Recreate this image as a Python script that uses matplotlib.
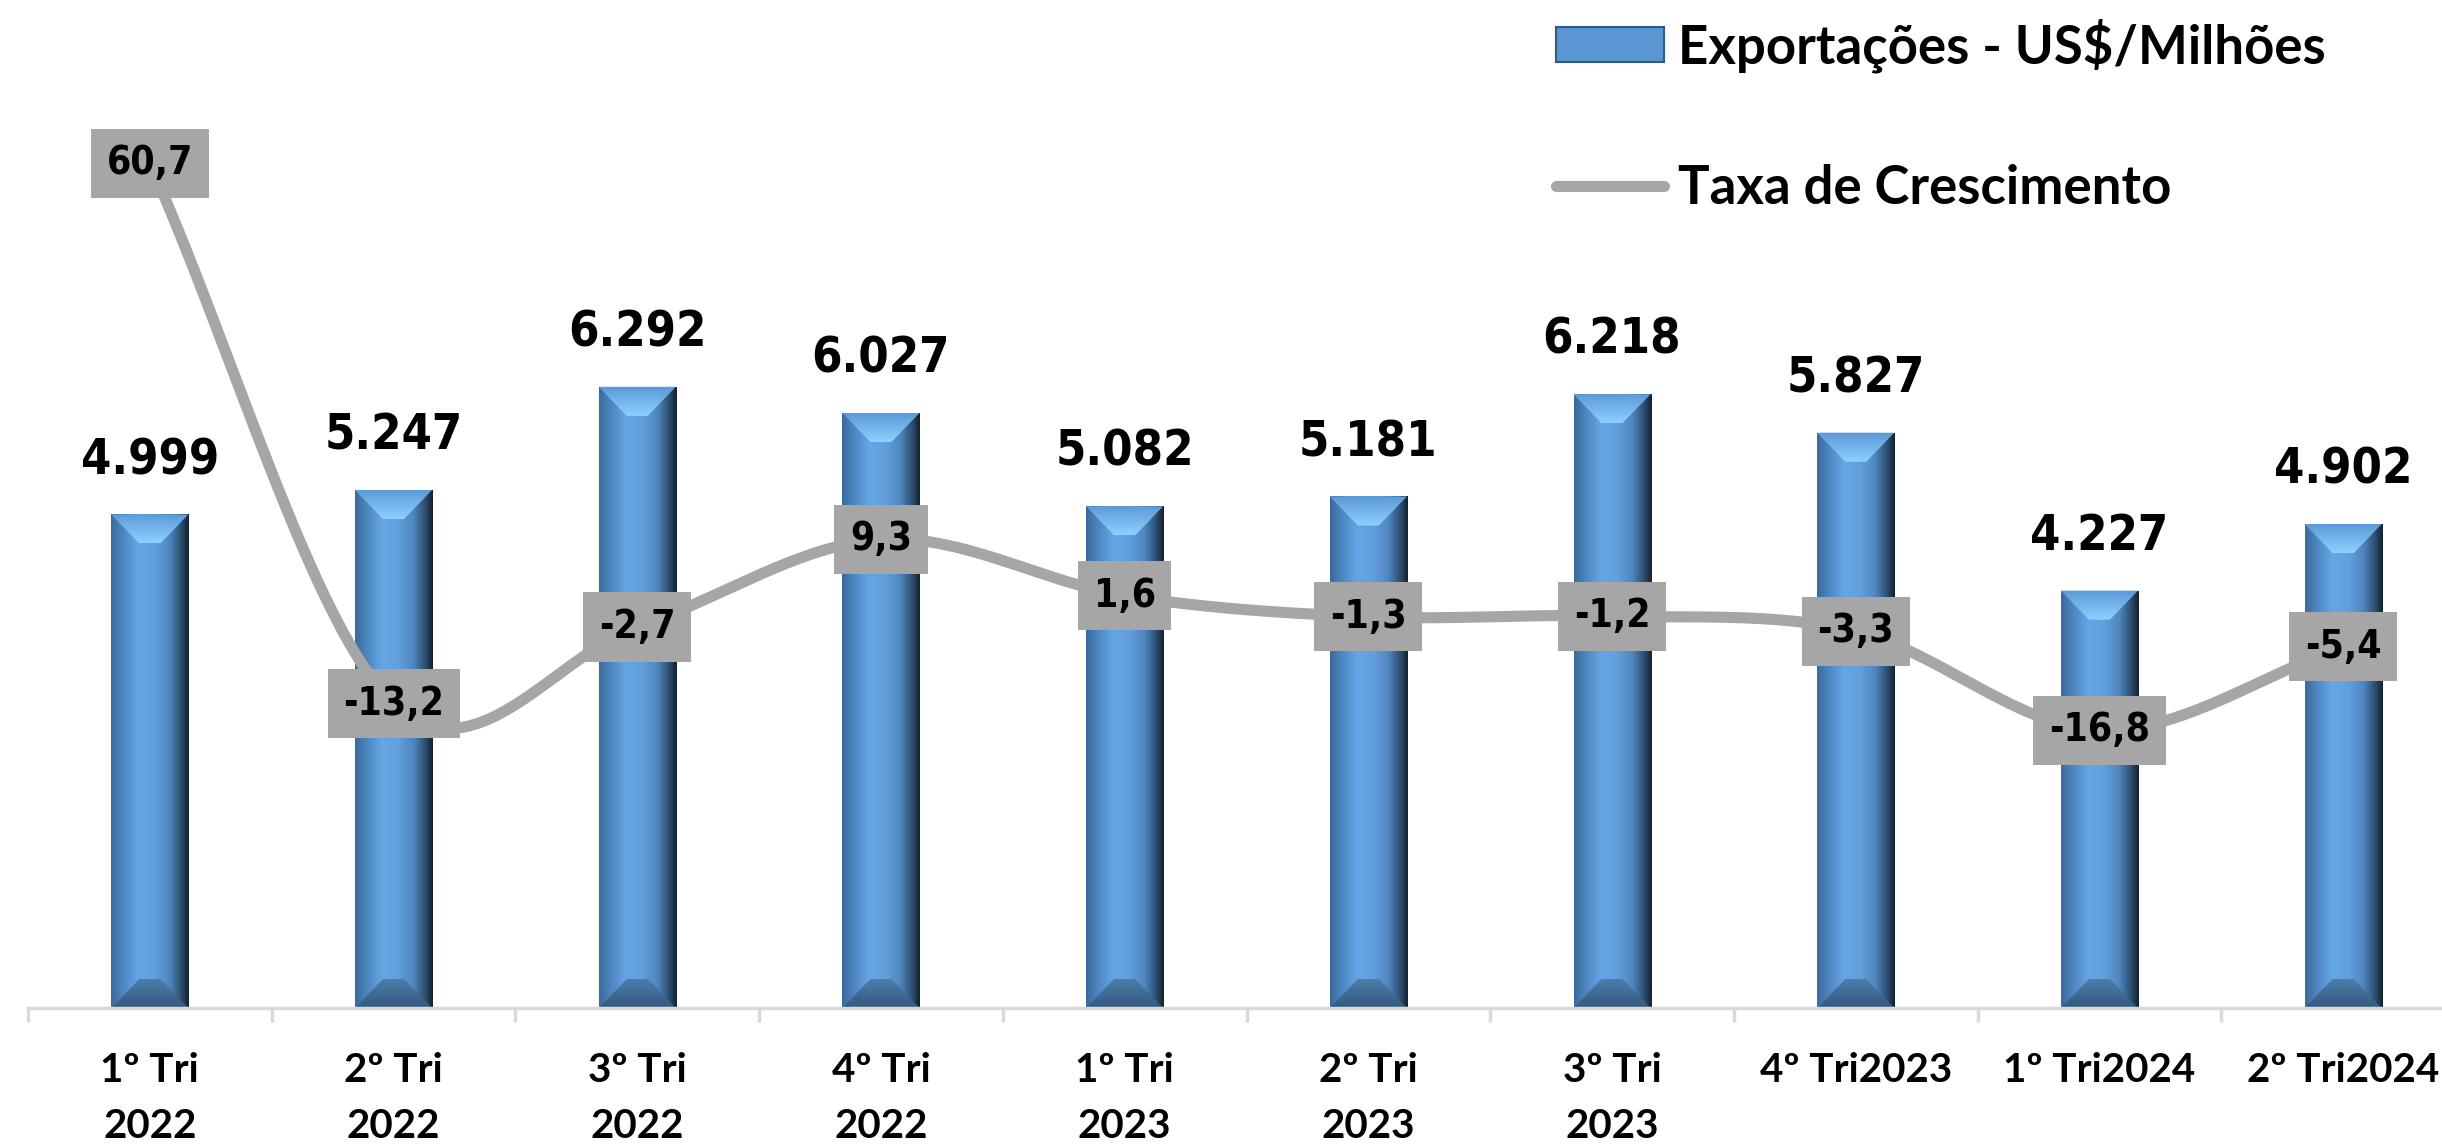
import numpy as np
import matplotlib.pyplot as plt
from matplotlib.colors import LinearSegmentedColormap
from matplotlib.patches import Polygon, Patch
from matplotlib.lines import Line2D

# data
trimestres = ['1º Tri\n2022', '2º Tri\n2022', '3º Tri\n2022', '4º Tri\n2022', '1º Tri\n2023',
              '2º Tri\n2023', '3º Tri\n2023', '4º Tri2023', '1º Tri2024', '2º Tri2024']
exportacoes = [4999, 5247, 6292, 6027, 5082, 5181, 6218, 5827, 4227, 4902]
taxa = [60.7, -13.2, -2.7, 9.3, 1.6, -1.3, -1.2, -3.3, -16.8, -5.4]

fonte = 'Lato'

fig = plt.figure(figsize=(24.42, 11.46), dpi=100)
ax = fig.add_axes([28 / 2442, 138 / 1146, 2437 / 2442, 1008 / 1146])
ax2 = ax.twinx()

x = np.arange(len(exportacoes))
largura = 0.316
barras = ax.bar(x, exportacoes, width=largura, color='#5b9bd5', zorder=2)

# bevel look: horizontal gradient on the body, light top and dark bottom facets
cmap_h = LinearSegmentedColormap.from_list('h', [(0, '#3a6a9a'), (0.15, '#4d86c0'), (0.35, '#66a6e6'),
                                                  (0.55, '#62a0de'), (0.75, '#4f86be'), (0.9, '#2e4f72'),
                                                  (1, '#14202c')])
cmap_top = LinearSegmentedColormap.from_list('t', ['#8fd0ff', '#5a98d6'])
cmap_bot = LinearSegmentedColormap.from_list('b', ['#33597f', '#4e7eae'])
grad_h = np.linspace(0, 1, 256).reshape(1, -1)
grad_v = np.linspace(0, 1, 256).reshape(-1, 1)
inset = 0.115
d = 294
for b, v in zip(barras, exportacoes):
    x0, x1 = b.get_x(), b.get_x() + b.get_width()
    im = ax.imshow(grad_h, cmap=cmap_h, extent=[x0, x1, 0, v], aspect='auto', zorder=2.1)
    im.set_clip_path(b)
    topo = Polygon([(x0, v), (x1, v), (x1 - inset, v - d), (x0 + inset, v - d)], closed=True,
                   fc='none', ec='none', transform=ax.transData)
    ax.add_patch(topo)
    im = ax.imshow(grad_v, cmap=cmap_top, extent=[x0, x1, v - d, v], aspect='auto', zorder=2.2,
                   origin='lower')
    im.set_clip_path(topo)
    base = Polygon([(x0, 0), (x1, 0), (x1 - inset, d), (x0 + inset, d)], closed=True,
                   fc='none', ec='none', transform=ax.transData)
    ax.add_patch(base)
    im = ax.imshow(grad_v, cmap=cmap_bot, extent=[x0, x1, 0, d], aspect='auto', zorder=2.2,
                   origin='lower')
    im.set_clip_path(base)
    ax.annotate(f'{v:,}'.replace(',', '.'), (b.get_x() + b.get_width() / 2, v), xytext=(0, 29),
                textcoords='offset points', ha='center', va='baseline', fontsize=35,
                fontweight='bold', family='DejaVu Sans', fontstretch='condensed', zorder=3)

ax.set_xlim(-0.5, len(x) - 0.5)
ax.set_ylim(0, 10210)

# smooth growth line (Catmull-Rom through the points)
px = x.astype(float)
py = np.array(taxa, dtype=float)
ext_x = np.concatenate([[2 * px[0] - px[1]], px, [2 * px[-1] - px[-2]]])
ext_y = np.concatenate([[2 * py[0] - py[1]], py, [2 * py[-1] - py[-2]]])
cx, cy = [], []
t = np.linspace(0, 1, 40)
for i in range(1, len(ext_x) - 2):
    for arr, out in ((ext_x, cx), (ext_y, cy)):
        p0, p1, p2, p3 = arr[i - 1], arr[i], arr[i + 1], arr[i + 2]
        out.extend(0.5 * (2 * p1 + (-p0 + p2) * t + (2 * p0 - 5 * p1 + 4 * p2 - p3) * t ** 2
                          + (-p0 + 3 * p1 - 3 * p2 + p3) * t ** 3))
ax2.plot(cx, cy, color='#a6a6a6', lw=8, solid_capstyle='round', zorder=3)
for i, g in enumerate(taxa):
    ax2.text(i, g, f'{g:.1f}'.replace('.', ','), ha='center', va='center', fontsize=28,
             fontweight='bold', family='DejaVu Sans', fontstretch='condensed', zorder=4,
             bbox=dict(boxstyle='square,pad=0.4', fc='#a6a6a6', ec='none'))
ax2.set_ylim(-54.8, 83.05)
ax2.set_xlim(-0.5, len(x) - 0.5)

# axes styling
for a in (ax, ax2):
    for s in ['top', 'right', 'left']:
        a.spines[s].set_visible(False)
    a.set_yticks([])
ax2.spines['bottom'].set_visible(False)
ax.spines['bottom'].set_color('#d9d9d9')
ax.spines['bottom'].set_linewidth(2.5)
ax.set_xticks(x)
ax.set_xticklabels(trimestres, fontsize=29, fontweight='bold', family=fonte, linespacing=1.62)
ax.tick_params(axis='x', which='major', length=0, pad=32)
ax.set_xticks(np.arange(-0.5, len(x)), minor=True)
ax.tick_params(axis='x', which='minor', length=10, width=2.5, color='#d9d9d9')

handles = [Patch(facecolor='#5a96d2', edgecolor='#2e5a88', lw=1.5),
           Line2D([], [], color='#a6a6a6', lw=8, solid_capstyle='round')]
fig.legend(handles, ['Exportações - US$/Milhões', 'Taxa de Crescimento'], loc='upper left',
           bbox_to_anchor=(1556 / 2442, 0.984), frameon=False, borderpad=0, borderaxespad=0,
           prop={'family': fonte, 'weight': 'bold', 'size': 38}, handlelength=2.04,
           handleheight=0.64, handletextpad=0.28, labelspacing=1.72)

fig.savefig('out.png', dpi=100)
